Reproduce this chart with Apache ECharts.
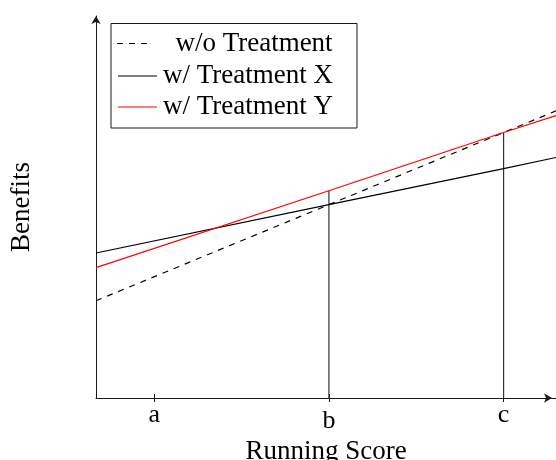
<!DOCTYPE html>
<html>
<head>
<meta charset="utf-8">
<script src="https://cdn.jsdelivr.net/npm/echarts@6/dist/echarts.min.js"></script>
<style>
  html, body { margin: 0; padding: 0; background: #fff; }
  #chart { width: 556px; height: 460px; }
</style>
</head>
<body>
<div id="chart"></div>
<script>
// Running score positions sampled along each benefit line
const scorePoints = [0, 4, 7, 7.9];
// Benefit levels at those scores
const withoutTreatment = [1.67, 3.32, 4.56, 4.93];
const treatmentX = [2.49, 3.32, 3.94, 4.13];
const treatmentY = [2.24, 3.56, 4.56, 4.85];

// Named cut-offs on the running score axis
const tickLabels = ['a', 'b', 'c'];
const tickValues = [1, 4, 7];

// Guide lines dropped from the curves at cut-offs b and c
const guideB = { x: 4, top: 3.56 };
const guideC = { x: 7, top: 4.56 };

const seriesNames = ['w/o Treatment', 'w/ Treatment X', 'w/ Treatment Y'];

const FONT = 'Liberation Serif, DejaVu Serif, serif';
const FS = 27;
const INK = '#1a1a1a';

const pairs = (xs, ys) => xs.map((x, i) => [x, ys[i]]);

const chart = echarts.init(document.getElementById('chart'), null, { renderer: 'canvas' });

const xAxisBase = {
  type: 'value',
  min: 0,
  max: 7.9,
  splitLine: { show: false },
};

const serifText = { fontFamily: FONT, fontSize: FS, color: '#000' };
const tickText = { fontFamily: FONT, fontSize: 26, color: '#000' };

chart.setOption({
  animation: false,
  backgroundColor: '#fff',
  grid: { left: 96, right: 0, top: 16, bottom: 62, outerBoundsMode: 'none', containLabel: false },
  xAxis: [
    Object.assign({}, xAxisBase, {
      name: 'Running Score',
      nameLocation: 'middle',
      nameGap: 37,
      nameTextStyle: serifText,
      axisLine: {
        show: true,
        lineStyle: { color: INK, width: 1 },
        symbol: ['none', 'arrow'],
        symbolSize: [7, 8],
        symbolOffset: [0, -4],
      },
      axisTick: {
        show: true, inside: false, length: 4,
        customValues: tickValues,
        lineStyle: { color: INK, width: 1 },
      },
      axisLabel: {
        show: true,
        customValues: tickValues,
        margin: 4,
        formatter: (v) => {
          const i = tickValues.indexOf(v);
          const t = i >= 0 ? tickLabels[i] : '';
          return t === 'b' ? '{tall|' + t + '}' : '{short|' + t + '}';
        },
        rich: {
          short: tickText,
          tall: Object.assign({ padding: [6, 0, 0, 0] }, tickText),
        },
      },
    }),
    Object.assign({}, xAxisBase, {
      position: 'bottom',
      axisLine: { show: false },
      axisTick: {
        show: true, inside: true, length: 4,
        customValues: tickValues,
        lineStyle: { color: INK, width: 1 },
      },
      axisLabel: { show: false },
    }),
  ],
  yAxis: {
    type: 'value',
    min: 0,
    max: 6.56,
    name: 'Benefits',
    nameLocation: 'middle',
    nameRotate: 90,
    nameGap: 61,
    nameTextStyle: serifText,
    axisLine: {
      show: true,
      lineStyle: { color: INK, width: 1 },
      symbol: ['none', 'arrow'],
      symbolSize: [7, 8],
    },
    axisTick: { show: false },
    axisLabel: { show: false },
    splitLine: { show: false },
  },
  series: [
    {
      name: 'guide-b',
      type: 'line',
      data: [[guideB.x, 0], [guideB.x, guideB.top]],
      symbol: 'none',
      lineStyle: { color: '#333', width: 1.2 },
      silent: true,
      z: 1,
    },
    {
      name: 'guide-c',
      type: 'line',
      data: [[guideC.x, 0], [guideC.x, guideC.top]],
      symbol: 'none',
      lineStyle: { color: '#333', width: 1.2 },
      silent: true,
      z: 1,
    },
    {
      name: seriesNames[0],
      type: 'line',
      data: pairs(scorePoints, withoutTreatment),
      symbol: 'none',
      lineStyle: { color: '#000', width: 1.2, type: [6, 6] },
      z: 3,
    },
    {
      name: seriesNames[1],
      type: 'line',
      data: pairs(scorePoints, treatmentX),
      symbol: 'none',
      lineStyle: { color: '#000', width: 1.2 },
      z: 3,
    },
    {
      name: seriesNames[2],
      type: 'line',
      data: pairs(scorePoints, treatmentY),
      symbol: 'none',
      lineStyle: { color: '#ff0000', width: 1.2 },
      z: 4,
    },
  ],
  graphic: [
    // legend frame
    {
      type: 'rect',
      shape: { x: 111, y: 23.5, width: 246, height: 104.5 },
      style: { fill: '#fff', stroke: INK, lineWidth: 1 },
      z: 10,
    },
    {
      type: 'line',
      shape: { x1: 117, y1: 43.5, x2: 148, y2: 43.5 },
      style: { stroke: '#000', lineWidth: 1.2, lineDash: [6, 6] },
      z: 11,
    },
    {
      type: 'text',
      style: { text: seriesNames[0], x: 254, y: 44, align: 'center', verticalAlign: 'middle',
               fontFamily: FONT, fontSize: FS, fill: '#000' },
      z: 11,
    },
    {
      type: 'line',
      shape: { x1: 118, y1: 76, x2: 157, y2: 76 },
      style: { stroke: '#000', lineWidth: 1.2 },
      z: 11,
    },
    {
      type: 'text',
      style: { text: seriesNames[1], x: 163, y: 75.5, align: 'left', verticalAlign: 'middle',
               fontFamily: FONT, fontSize: FS, fill: '#000' },
      z: 11,
    },
    {
      type: 'line',
      shape: { x1: 118, y1: 107, x2: 157, y2: 107 },
      style: { stroke: '#ff0000', lineWidth: 1.2 },
      z: 11,
    },
    {
      type: 'text',
      style: { text: seriesNames[2], x: 163, y: 107, align: 'left', verticalAlign: 'middle',
               fontFamily: FONT, fontSize: FS, fill: '#000' },
      z: 11,
    },
  ],
});
</script>
</body>
</html>
